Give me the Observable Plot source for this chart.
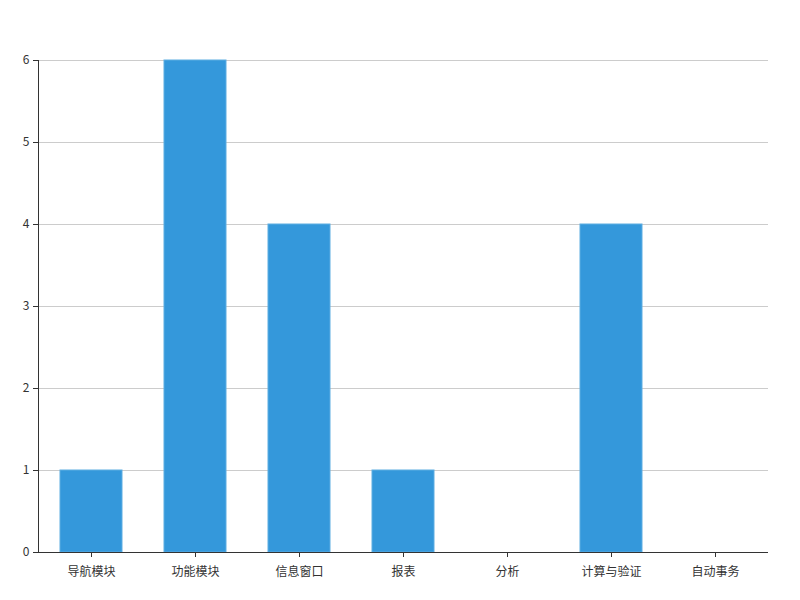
<!DOCTYPE html>
<html><head><meta charset="utf-8">
<script src="https://cdn.jsdelivr.net/npm/d3@7"></script>
<script src="https://cdn.jsdelivr.net/npm/@observablehq/plot@0.6"></script>
<style>body{margin:0;background:#fff}</style>
</head><body><div id="chart"></div>
<script>
const categories = ["导航模块","功能模块","信息窗口","报表","分析","计算与验证","自动事务"];
const values = [1,6,4,1,0,4,0];
const yTicks = [0,1,2,3,4,5,6];
const data = categories.map((c,i)=>({cat:c, v:values[i]}));
const chart = Plot.plot({
  width: 800, height: 600,
  marginTop: 60, marginBottom: 48, marginLeft: 38, marginRight: 32,
  style: {fontFamily: "'Noto Sans CJK SC', sans-serif", fontSize: "12px", color: "#333", background: "#fff"},
  x: {domain: categories, paddingInner: 0.4, paddingOuter: 0.2, label: null},
  y: {domain: [0,6], label: null},
  marks: [
    Plot.ruleY(yTicks, {stroke: "#ccc", strokeOpacity: 1}),
    Plot.barY(data, {x: "cat", y: "v", fill: "#3498db", stroke: "#5dade2", strokeWidth: 1}),
    Plot.axisY({ticks: yTicks, tickFormat: "d", tickSize: 5, tickPadding: 4, label: null, stroke: "#333", fill: "#333"}),
    Plot.axisX({tickSize: 5, tickPadding: 10, label: null, stroke: "#333", fill: "#333"}),
    Plot.ruleY([0], {stroke: "#333"}),
    Plot.frame({anchor: "left", stroke: "#333"})
  ]
});
document.getElementById("chart").appendChild(chart);
</script></body></html>
